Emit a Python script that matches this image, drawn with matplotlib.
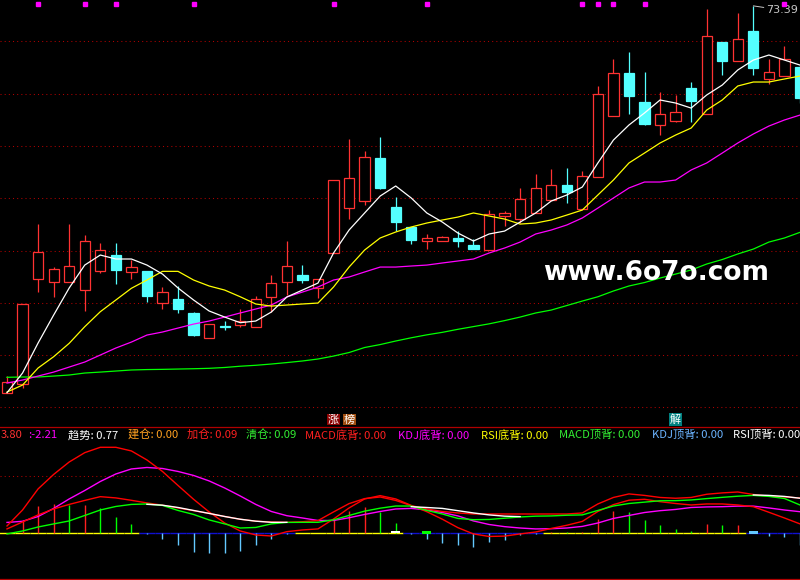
import numpy as np
import matplotlib
matplotlib.use('Agg')
import matplotlib.pyplot as plt
from matplotlib.transforms import blended_transform_factory

plt.rcParams['font.family'] = ['Noto Sans CJK SC', 'DejaVu Sans']

# daily candles (price)
opens = [36.41, 37.21, 47.25, 46.96, 46.96, 46.20, 48.01, 49.54, 47.92, 48.01,
         44.95, 45.34, 44.00, 41.61, 42.78, 42.85, 42.66, 45.53, 46.96, 47.63,
         46.39, 49.73, 54.03, 54.78, 58.84, 54.16, 52.25, 50.94, 50.88, 51.17,
         50.53, 50.02, 53.27, 52.98, 53.56, 54.83, 56.26, 53.97, 57.00, 62.89,
         66.94, 64.17, 62.03, 62.41, 65.51, 63.08, 69.90, 68.15, 70.96, 66.42,
         66.65, 67.51]
highs = [38.00, 44.86, 52.53, 48.39, 52.53, 51.45, 50.72, 50.72, 49.06, 48.01,
         46.48, 46.58, 44.09, 42.95, 43.23, 44.38, 45.62, 47.66, 50.88, 48.59,
         47.25, 56.71, 60.63, 59.51, 60.85, 55.14, 52.25, 51.58, 51.39, 51.84,
         51.07, 53.84, 53.78, 56.00, 57.29, 57.79, 57.89, 57.60, 65.73, 68.28,
         68.95, 67.04, 65.12, 64.84, 66.08, 73.06, 69.90, 72.68, 73.39, 68.28,
         69.52, 67.80]
lows = [36.38, 36.88, 46.06, 45.58, 46.96, 44.19, 47.82, 46.77, 47.25, 45.11,
        44.38, 44.00, 41.86, 41.61, 42.37, 42.66, 42.66, 44.15, 45.72, 46.87,
        45.43, 49.73, 53.01, 54.35, 55.85, 51.89, 50.65, 50.17, 50.88, 50.36,
        50.17, 50.02, 52.37, 52.63, 53.56, 54.83, 54.51, 53.97, 57.00, 62.89,
        63.08, 62.03, 61.07, 62.31, 62.31, 63.08, 66.81, 68.15, 66.75, 65.89,
        66.65, 64.07]
closes = [37.43, 44.86, 49.83, 48.20, 48.49, 50.88, 50.02, 48.11, 48.39, 45.68,
          46.00, 44.38, 41.95, 42.95, 42.73, 43.23, 45.34, 46.87, 48.49, 47.15,
          47.25, 56.71, 56.90, 58.91, 56.00, 52.75, 51.03, 51.17, 51.26, 50.94,
          50.17, 53.46, 53.56, 54.95, 55.95, 56.23, 55.62, 57.09, 64.93, 66.94,
          64.80, 62.12, 63.08, 63.21, 64.32, 70.48, 68.15, 70.19, 67.48, 67.04,
          68.28, 64.55]

# moving averages
ma5 = [36.41, 38.29, 41.16, 43.83, 46.42, 48.61, 49.57, 49.19, 49.19, 48.61,
       47.75, 46.42, 45.27, 44.22, 43.64, 43.10, 43.26, 44.12, 45.56, 46.22,
       46.89, 49.76, 51.96, 53.59, 55.21, 56.17, 55.02, 53.59, 52.72, 51.67,
       50.91, 51.58, 51.86, 52.72, 53.59, 54.73, 55.31, 56.07, 58.37, 60.56,
       62.00, 63.15, 64.39, 64.10, 63.62, 64.87, 65.82, 67.26, 68.21, 68.69,
       68.21, 67.73]
ma10 = [36.47, 37.14, 38.77, 39.85, 41.13, 42.72, 44.15, 45.27, 46.39, 47.18,
        48.01, 48.01, 47.18, 46.61, 46.22, 45.58, 44.89, 44.69, 44.79, 44.89,
        44.98, 46.51, 48.42, 50.05, 51.20, 51.77, 52.25, 52.63, 52.92, 53.20,
        53.59, 53.30, 53.01, 52.53, 52.63, 52.92, 53.39, 53.87, 55.31, 56.74,
        58.37, 59.32, 60.28, 61.04, 61.71, 63.43, 64.39, 65.73, 66.11, 66.11,
        66.40, 66.68]
ma20 = [37.33, 37.62, 38.00, 38.38, 38.86, 39.34, 40.01, 40.68, 41.25, 41.92,
        42.21, 42.59, 42.97, 43.26, 43.64, 44.03, 44.41, 44.79, 45.56, 46.03,
        46.51, 47.18, 47.47, 47.95, 48.42, 48.42, 48.52, 48.61, 48.81, 49.00,
        49.19, 49.76, 50.24, 50.81, 51.58, 51.96, 52.44, 53.11, 54.06, 55.02,
        55.98, 56.55, 56.55, 56.74, 57.70, 58.37, 59.32, 60.28, 61.14, 61.90,
        62.48, 62.95]
ma60 = [37.88, 37.91, 37.91, 38.00, 38.10, 38.29, 38.38, 38.48, 38.58, 38.62,
        38.64, 38.67, 38.70, 38.74, 38.82, 38.94, 39.03, 39.15, 39.29, 39.44,
        39.63, 39.91, 40.25, 40.73, 41.01, 41.35, 41.66, 41.94, 42.18, 42.47,
        42.73, 42.99, 43.30, 43.64, 44.03, 44.31, 44.74, 45.17, 45.58, 46.13,
        46.61, 46.94, 47.37, 47.75, 48.14, 48.71, 49.14, 49.67, 50.14, 50.81,
        51.20, 51.74]

signal_days = [2, 5, 7, 12, 21, 27, 37, 38, 39, 41, 50]
peak_day = 48
peak_text = "73.39"

# indicator panel
fast_red = [0.64, 2.04, 3.89, 5.16, 6.25, 7.07, 7.54, 7.54, 7.22, 6.43,
            5.42, 4.19, 2.98, 1.87, 0.90, 0.20, -0.15, -0.24, 0.14, 0.29,
            0.38, 1.25, 2.22, 3.01, 3.30, 3.01, 2.44, 1.89, 1.23, 0.49,
            -0.06, -0.28, -0.25, -0.06, 0.11, 0.42, 0.70, 1.04, 1.91, 2.51,
            2.90, 2.98, 2.77, 2.61, 2.48, 2.57, 2.57, 2.48, 2.33, 1.84,
            1.34, 0.82]
slow_red = [0.38, 0.99, 1.61, 2.13, 2.53, 2.88, 3.21, 3.10, 2.89, 2.66,
            2.46, 2.22, 1.98, 1.74, 1.47, 1.23, 1.06, 0.99, 0.96, 1.01,
            1.11, 1.87, 2.60, 3.04, 3.18, 2.88, 2.42, 2.13, 1.91, 1.78,
            1.69, 1.69, 1.69, 1.69, 1.69, 1.69, 1.69, 1.78, 2.57, 3.14,
            3.45, 3.32, 3.14, 3.07, 3.14, 3.42, 3.54, 3.62, 3.40, 3.25,
            3.18, 3.10]
magenta_line = [0.95, 1.05, 1.47, 2.18, 3.01, 3.75, 4.54, 5.20, 5.64, 5.77,
                5.68, 5.42, 5.07, 4.59, 3.97, 3.27, 2.53, 1.91, 1.54, 1.34,
                1.12, 1.12, 1.36, 1.65, 1.91, 2.13, 2.18, 2.04, 1.82, 1.52,
                1.08, 0.77, 0.58, 0.46, 0.38, 0.40, 0.46, 0.60, 0.90, 1.30,
                1.56, 1.82, 1.98, 2.09, 2.26, 2.31, 2.33, 2.38, 2.38, 2.22,
                2.04, 1.89]
green_line = [-0.06, 0.20, 0.55, 0.82, 1.08, 1.56, 2.04, 2.35, 2.53, 2.57,
              2.44, 2.00, 1.65, 1.17, 0.82, 0.46, 0.51, 0.82, 0.95, 0.96,
              0.96, 1.18, 1.56, 1.94, 2.20, 2.39, 2.39, 2.00, 1.69, 1.30,
              1.19, 1.21, 1.32, 1.43, 1.50, 1.52, 1.58, 1.61, 2.00, 2.39,
              2.61, 2.73, 2.85, 2.86, 2.92, 3.04, 3.15, 3.25, 3.32, 3.23,
              3.05, 2.48]
nan = float('nan')
white_line = [nan] * 9 + [2.54, 2.46, 2.26, 2.00, 1.74, 1.47, 1.23, 1.06, 0.96, 0.96] \
    + [nan] * 7 + [2.33, 2.26, 2.18, 1.98, 1.78, 1.61, 1.50, 1.46] \
    + [nan] * 14 + [3.36, 3.32, 3.23, 3.07]
hist = [0.0, 1.17, 2.39, 2.57, 2.47, 2.49, 2.19, 1.40, 0.82, -0.03,
        -0.47, -1.00, -1.61, -1.70, -1.70, -1.53, -1.00, -0.47, -0.04, 0.03,
        0.05, 1.32, 1.96, 2.33, 1.89, 0.93, -0.04, -0.50, -0.82, -1.00,
        -1.18, -0.74, -0.56, -0.15, -0.03, 0.11, 0.09, 0.11, 1.25, 1.98,
        1.89, 1.17, 0.73, 0.38, 0.20, 0.82, 0.73, 0.75, -0.02, -0.24,
        -0.32, -1.00]
white_boxes = [25]
green_boxes = [27]
blue_boxes = [48]

labels = ["3.80", ":-2.21", "趋势: 0.77", "建仓: 0.00", "加仓: 0.09", "清仓: 0.09",
          "MACD底背: 0.00", "KDJ底背: 0.00", "RSI底背: 0.00", "MACD顶背: 0.00",
          "KDJ顶背: 0.00", "RSI顶背: 0.00"]
stamps = [("涨", 21), ("榜", 22), ("解", 43)]

UP = '#FF3232'
DOWN = '#54FFFF'
GRID = '#B00000'

fig = plt.figure(figsize=(8, 5.8), dpi=100, facecolor='black')
ax = fig.add_axes([0, 153 / 580, 1, 427 / 580], facecolor='black')
ax2 = fig.add_axes([0, 0, 1, 153 / 580], facecolor='black')

x = np.arange(len(closes))
o = np.array(opens)
c = np.array(closes)
h = np.array(highs)
l = np.array(lows)
up = c >= o

ax.vlines(x[up], l[up], h[up], color=UP, lw=0.9, zorder=2)
ax.vlines(x[~up], l[~up], h[~up], color=DOWN, lw=0.9, zorder=2)
ax.bar(x[up], (c - o)[up], bottom=o[up], width=0.66, facecolor='black',
       edgecolor=UP, lw=0.9, zorder=3)
ax.bar(x[~up], (o - c)[~up], bottom=c[~up], width=0.66, facecolor=DOWN,
       edgecolor=DOWN, lw=0.9, zorder=3)

ax.plot(x, ma60, color='#00FF00', lw=0.9, zorder=4)
ax.plot(x, ma20, color='#FF00FF', lw=0.9, zorder=4)
ax.plot(x, ma10, color='#FFFF00', lw=0.9, zorder=4)
ax.plot(x, ma5, color='#FFFFFF', lw=0.9, zorder=4)

top = blended_transform_factory(ax.transData, ax.transAxes)
ax.plot(signal_days, [0.9906] * len(signal_days), 's', color='#FF00FF',
        ms=2.3, transform=top, clip_on=False, zorder=5)

ax.annotate(peak_text, xy=(peak_day, highs[peak_day]), xytext=(9.5, -3.2),
            textcoords='offset points', ha='left', va='center', color='#C8C8C8',
            fontsize=8, family='DejaVu Sans',
            arrowprops=dict(arrowstyle='-', color='#C8C8C8', lw=0.7,
                            shrinkA=0, shrinkB=0))

for ch, i in stamps:
    bg = {'涨': '#8C0000', '榜': '#A04E10', '解': '#008080'}[ch]
    ax.text(i, 0.0176, ch, transform=top, ha='center', va='center',
            color='white', fontsize=8, zorder=6,
            bbox=dict(boxstyle='square,pad=0.08', fc=bg, ec='none'))

ax.set_xlim(-0.45, 51.0)
ax.set_ylim(33.13, 73.95)
ax.set_yticks([35, 40, 45, 50, 55, 60, 65, 70])
ax.grid(axis='y', color=GRID, linestyle=(0, (1, 3)), lw=0.75)
ax.set_axisbelow(True)
ax.tick_params(left=False, bottom=False, labelleft=False, labelbottom=False)
for s in ax.spines.values():
    s.set_visible(False)

# lower indicator panel
hv = np.array(hist)
bar_colors = []
prev = 0.0
for v in hv:
    if v < 0:
        bar_colors.append('#64C8FF')
    elif v > prev:
        bar_colors.append('#FF2020')
    else:
        bar_colors.append('#00FF00')
    prev = v
base_colors = ['#FFFF00' if v >= 0 else '#1010D0' for v in hv]
ax2.hlines(np.zeros(len(x)), x - 0.5, x + 0.5, colors=base_colors, lw=1.0, zorder=2)
ax2.vlines(x, 0, hv, colors=bar_colors, lw=1.0, zorder=3)

ax2.plot(x, magenta_line, color='#FF00FF', lw=1.0, zorder=4)
ax2.plot(x, slow_red, color='#FF0000', lw=1.0, zorder=4)
ax2.plot(x, fast_red, color='#FF0000', lw=1.0, zorder=4)
ax2.plot(x, green_line, color='#00FF00', lw=1.0, zorder=5)
ax2.plot(x, white_line, color='#FFFFFF', lw=1.0, zorder=6)

ax2.bar(white_boxes, 0.24, bottom=-0.02, width=0.6, color='white', zorder=6)
ax2.bar(green_boxes, 0.24, bottom=-0.08, width=0.6, color='#00FF00', zorder=6)
ax2.bar(blue_boxes, 0.26, bottom=-0.06, width=0.6, color='#64C8FF', zorder=6)

ax2.set_xlim(-0.45, 51.0)
ax2.set_ylim(-4.10, 9.32)
ax2.set_yticks([5])
ax2.grid(axis='y', color=GRID, linestyle=(0, (1, 3)), lw=0.75)
ax2.axhline(-4.01, color='#B00000', lw=0.9)
ax2.tick_params(left=False, bottom=False, labelleft=False, labelbottom=False)
for s in ax2.spines.values():
    s.set_visible(False)
ax2.spines['top'].set_visible(True)
ax2.spines['top'].set_color('#B00000')
ax2.spines['top'].set_linewidth(0.9)

label_x = [0.5, 28, 68, 128, 187, 246, 305, 398.5, 481, 559, 652, 733]
label_c = ['#FF3232', '#FF00FF', '#FFFFFF', '#FFA020', '#FF2020', '#33EE33',
           '#FF2020', '#FF00FF', '#FFFF00', '#33EE33', '#6CB4FF', '#FFFFFF']
for t, px, col in zip(labels, label_x, label_c):
    fig.text(px / 800, 1 - 435 / 580, t, color=col, fontsize=8.1,
             ha='left', va='center')

fig.text(543 / 800, 1 - 280 / 580, "www.6o7o.com", color='white',
         fontsize=19, fontweight='bold', family='DejaVu Sans',
         ha='left', va='baseline')

fig.savefig('out.png', dpi=100, facecolor='black')
